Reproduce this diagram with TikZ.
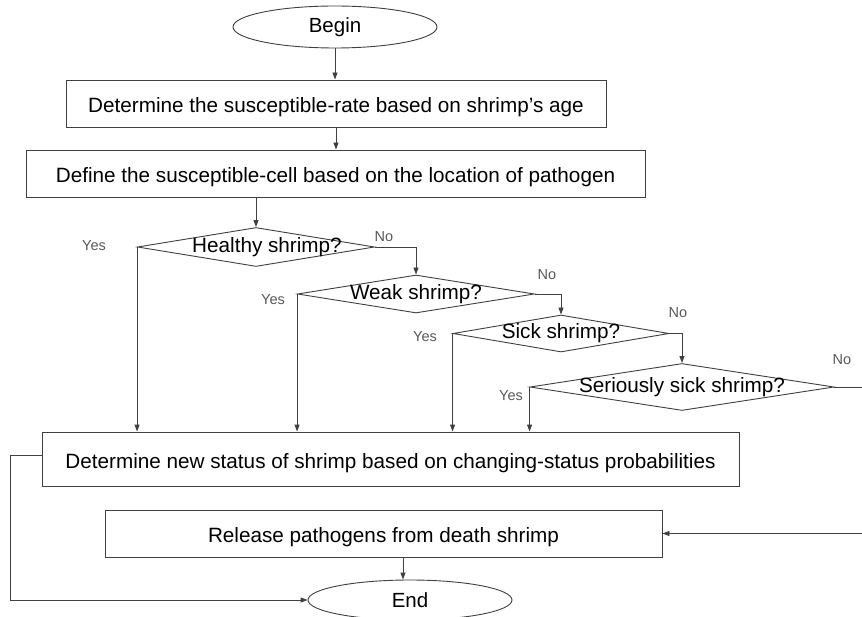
\documentclass[tikz,border=0pt]{standalone}
\usepackage{fontspec}
\setmainfont{Liberation Sans}
\usetikzlibrary{shapes.geometric,arrows.meta}
\begin{document}
\begin{tikzpicture}[x=1pt,y=-1pt,
  line/.style={draw=black!75, line width=0.9pt},
  arr/.style={line, -{Triangle[length=7pt,width=5pt]}},
  terminal/.style={ellipse, draw=black!75, line width=0.9pt, inner sep=0pt,
    font=\fontsize{20.5}{24}\selectfont},
  process/.style={rectangle, draw=black!75, line width=0.9pt, inner sep=0pt,
    text height=20pt, text depth=2pt,
    font=\fontsize{20.7}{24}\selectfont},
  decision/.style={diamond, draw=black!75, line width=0.9pt, inner sep=0pt},
  dtext/.style={font=\fontsize{20.7}{24}\selectfont, inner sep=0pt},
  answer/.style={text=black!65, font=\fontsize{14.5}{17}\selectfont, inner sep=0pt}
]
\useasboundingbox[fill=white] (0,0) rectangle (862,617);

% main flow
\node[terminal, minimum width=204pt, minimum height=42pt] (begin) at (335,27) {Begin};
\node[process, minimum width=540pt, minimum height=47pt] (rate) at (336,103.5)
  {Determine the susceptible-rate based on shrimp’s age};
\node[process, minimum width=619pt, minimum height=47pt] (cell) at (335.5,173.5)
  {Define the susceptible-cell based on the location of pathogen};

% status checks
\node[decision, minimum width=237pt, minimum height=39pt,
  label={[dtext,name=healthytext,xshift=11pt]center:Healthy shrimp?}] (healthy) at (256,247) {};
\node[decision, minimum width=237pt, minimum height=38pt,
  label={[dtext,name=weaktext]center:Weak shrimp?}] (weak) at (416,294) {};
\node[decision, minimum width=216pt, minimum height=37pt,
  label={[dtext,name=sicktext]center:Sick shrimp?}] (sick) at (561,333.5) {};
\node[decision, minimum width=304pt, minimum height=47pt,
  label={[dtext,name=serioustext]center:Seriously sick shrimp?}] (serious) at (682,387) {};

\node[process, minimum width=697pt, minimum height=54pt] (status) at (390.5,459)
  {Determine new status of shrimp based on changing-status probabilities};
\node[process, minimum width=557pt, minimum height=47pt] (release) at (383.5,533.5)
  {Release pathogens from death shrimp};
\node[terminal, minimum width=204pt, minimum height=40pt] (end) at (410,600) {End};

% branch labels
\node[answer] (yes1) at (94,246) {Yes};
\node[answer] (no1) at (384,237) {No};
\node[answer] (yes2) at (273,300) {Yes};
\node[answer] (no2) at (547,275) {No};
\node[answer] (yes3) at (425,337) {Yes};
\node[answer] (no3) at (678,313) {No};
\node[answer] (yes4) at (511,396) {Yes};
\node[answer] (no4) at (842,360) {No};

% connectors
\draw[arr] (begin.south) -- (begin.south |- rate.north);
\draw[arr] (rate.south) -- (rate.south |- cell.north);
\draw[arr] (healthy.north |- cell.south) -- (healthy.north);
\draw[arr] (healthy.east) -| (weak.north);
\draw[arr] (weak.east) -| (sick.north);
\draw[arr] (sick.east) -| (serious.north);
\draw[arr] (healthy.west) -- (healthy.west |- status.north);
\draw[arr] (weak.west) -- (weak.west |- status.north);
\draw[arr] (sick.west) -- (sick.west |- status.north);
\draw[arr] (serious.west) -- (serious.west |- status.north);
\draw[arr] (serious.east) -- (875,387) |- (release.east);
\draw[arr] ([xshift=-7pt]end.north |- release.south) -- ([xshift=-7pt]end.north);
\draw[arr] ([yshift=4pt]status.west) -- ++(-31,0) |- (end.west);
\end{tikzpicture}
\end{document}
